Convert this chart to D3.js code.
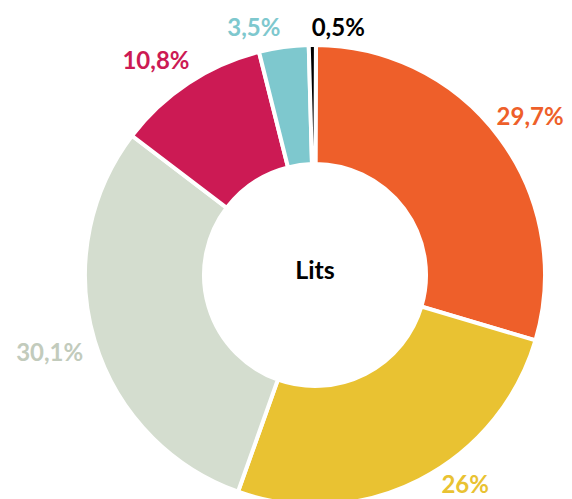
<!DOCTYPE html>
<html><head><meta charset="utf-8">
<script src="https://cdn.jsdelivr.net/npm/d3@7"></script>
<style>html,body{margin:0;padding:0;background:#fff;}svg{display:block;}</style>
</head><body>
<svg id="chart" width="572" height="499"></svg>
<script>
const categories = ["A", "B", "C", "D", "E", "F"];
const values = [29.7, 26, 30.1, 10.8, 3.5, 0.5];
const labels = ["29,7%", "26%", "30,1%", "10,8%", "3,5%", "0,5%"];
const colors = ["#EE5F2A", "#E9C232", "#D4DDCF", "#CC1A54", "#7EC8CE", "#000000"];
const labelColors = ["#EE5F2A", "#E9C232", "#C2CBBC", "#CC1A54", "#7EC8CE", "#000000"];
const title = "Lits";

// layout settings (not data)
const cx = 315, cy = 275, outerR = 230, innerR = 111;
const labelLayout = [
  {r: 268, da: 0},
  {r: 257, da: -8.8},
  {r: 276, da: 0.6},
  {r: 268, da: -3},
  {r: 256, da: -6},
  {r: 250, da: 6}
];

const svg = d3.select("#chart");
const g = svg.append("g").attr("transform", `translate(${cx},${cy})`);
const data = categories.map((c, i) => ({c, v: values[i], i}));
const pie = d3.pie().value(d => d.v).sort(null).startAngle(0.004).endAngle(2 * Math.PI + 0.004);
const arcs = pie(data);
const arc = d3.arc().innerRadius(innerR).outerRadius(outerR);

g.selectAll("path").data(arcs).join("path")
  .attr("d", arc)
  .attr("fill", d => colors[d.data.i])
  .attr("stroke", "#fff")
  .attr("stroke-width", 4)
  .attr("stroke-linejoin", "miter");

g.selectAll("text.lbl").data(arcs).join("text")
  .attr("class", "lbl")
  .attr("x", d => {
    const L = labelLayout[d.data.i];
    const a = (d.startAngle + d.endAngle) / 2 + L.da * Math.PI / 180;
    return L.r * Math.sin(a);
  })
  .attr("y", d => {
    const L = labelLayout[d.data.i];
    const a = (d.startAngle + d.endAngle) / 2 + L.da * Math.PI / 180;
    return -L.r * Math.cos(a);
  })
  .attr("text-anchor", "middle")
  .attr("dominant-baseline", "central")
  .attr("font-family", "Lato, 'Open Sans', sans-serif")
  .attr("font-weight", 700)
  .attr("font-size", 24)
  .attr("fill", d => labelColors[d.data.i])
  .text(d => labels[d.data.i]);

g.append("text")
  .attr("x", 0).attr("y", -6)
  .attr("text-anchor", "middle")
  .attr("dominant-baseline", "central")
  .attr("font-family", "Lato, 'Open Sans', sans-serif")
  .attr("font-weight", 700)
  .attr("font-size", 25)
  .attr("fill", "#000")
  .text(title);
</script>
</body></html>
